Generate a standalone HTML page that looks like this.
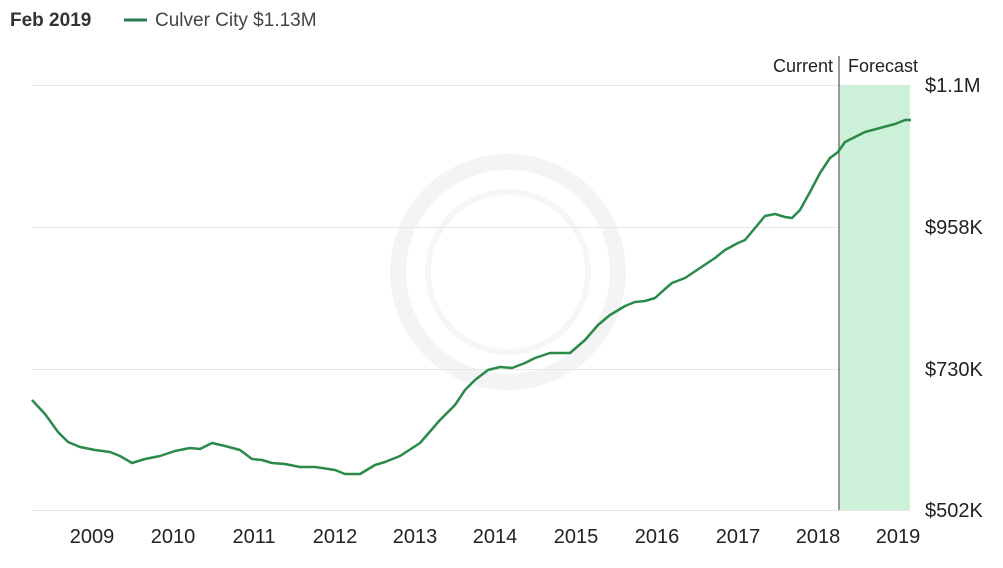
<!DOCTYPE html>
<html><head><meta charset="utf-8"><style>
body{margin:0;background:#fff;width:1003px;height:563px;overflow:hidden;font-family:"Liberation Sans",sans-serif;}
</style></head><body>
<svg width="1003" height="563" viewBox="0 0 1003 563" xmlns="http://www.w3.org/2000/svg" font-family="Liberation Sans, sans-serif">
<circle cx="508" cy="272" r="110" fill="none" stroke="#f4f4f4" stroke-width="16"/>
<circle cx="508" cy="272" r="80" fill="none" stroke="#f6f6f6" stroke-width="6"/>
<text x="10" y="26" font-size="19" font-weight="bold" fill="#333">Feb 2019</text>
<line x1="124" y1="20" x2="147" y2="20" stroke="#2a7d4f" stroke-width="3"/>
<text x="155" y="26" font-size="19" fill="#444">Culver City $1.13M</text>
<g stroke="#e8e8e8" stroke-width="1">
<line x1="32" y1="85.5" x2="910" y2="85.5"/>
<line x1="32" y1="227.5" x2="910" y2="227.5"/>
<line x1="32" y1="369.5" x2="910" y2="369.5"/>
<line x1="32" y1="510.5" x2="910" y2="510.5"/>
</g>
<rect x="840" y="85" width="70" height="425" fill="#cdf0d8"/>
<line x1="839" y1="56" x2="839" y2="510" stroke="#777" stroke-width="1.5"/>
<text x="833" y="72" font-size="18" text-anchor="end" fill="#222">Current</text>
<text x="848" y="72" font-size="18" fill="#222">Forecast</text>
<g font-size="20" fill="#222">
<text x="925" y="92">$1.1M</text>
<text x="925" y="234">$958K</text>
<text x="925" y="376">$730K</text>
<text x="925" y="517">$502K</text>
</g>
<g font-size="20" fill="#222" text-anchor="middle">
<text x="92" y="543">2009</text><text x="173" y="543">2010</text><text x="254" y="543">2011</text>
<text x="335" y="543">2012</text><text x="415" y="543">2013</text><text x="495" y="543">2014</text>
<text x="576" y="543">2015</text><text x="657" y="543">2016</text><text x="738" y="543">2017</text>
<text x="818" y="543">2018</text><text x="898" y="543">2019</text>
</g>
<polyline fill="none" stroke="#2a8a4a" stroke-width="2.5" stroke-linejoin="round" points="32,400 45,414 58,432 68,442 80,447 95,450 110,452 120,456 132,463 145,459 160,456 175,451 190,448 200,449 212,443 225,446 240,450 252,459 262,460 272,463 285,464 300,467 315,467 322,468 335,470 345,474 360,474 375,465 385,462 400,456 420,443 440,420 455,405 465,390 475,380 488,370 500,367 512,368 525,363 535,358 550,353 570,353 585,340 598,325 610,315 625,306 635,302 645,301 655,298 665,289 672,283 685,278 700,268 715,258 725,250 738,243 745,240 755,228 765,216 775,214 785,217 792,218 800,210 810,192 820,173 830,158 838,152 845,142 855,137 865,132 880,128 895,124 905,120 911,120"/>
</svg>
</body></html>
